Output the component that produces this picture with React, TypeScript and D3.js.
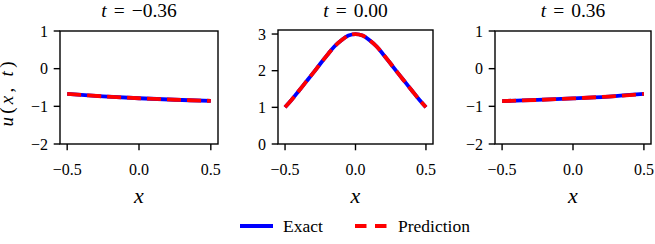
import React, { useEffect, useRef } from "react";
import * as d3 from "d3";

const titles = ["−0.36", "0.00", "0.36"];
const xTicks = [-0.5, 0.0, 0.5];
const yTicksSide = [1, 0, -1, -2];
const yTicksMid = [0, 1, 2, 3];

const xSide = [-0.5, -0.25, 0.0, 0.25, 0.5];
const uLeft = [-0.67, -0.735, -0.785, -0.825, -0.855];
const uRight = [-0.86, -0.83, -0.79, -0.74, -0.67];
const uLeftPred = [-0.67, -0.735, -0.785, -0.825, -0.855];
const uRightPred = [-0.86, -0.83, -0.79, -0.74, -0.67];

const xMid = [-0.5, -0.45, -0.4, -0.35, -0.3, -0.25, -0.2, -0.15, -0.1, -0.05, 0, 0.05, 0.1, 0.15, 0.2, 0.25, 0.3, 0.35, 0.4, 0.45, 0.5];
const uMid = [1.0, 1.22, 1.46, 1.7, 1.94, 2.19, 2.43, 2.66, 2.83, 2.96, 3.0, 2.96, 2.83, 2.66, 2.43, 2.19, 1.94, 1.7, 1.46, 1.22, 1.0];
const uMidPred = [1.0, 1.22, 1.46, 1.7, 1.94, 2.19, 2.43, 2.66, 2.83, 2.96, 3.0, 2.96, 2.83, 2.66, 2.43, 2.19, 1.94, 1.7, 1.46, 1.22, 1.0];

const SERIF = { fontFamily: '"Liberation Serif"' };

type P = {
  left: number; right: number; top: number; bottom: number;
  ydom: [number, number]; yticks: number[]; xs: number[]; ex: number[]; pr: number[]; title: string; ylabel?: boolean;
};

const panels: P[] = [
  { left: 60, right: 218, top: 31, bottom: 144, ydom: [-2, 1], yticks: yTicksSide, xs: xSide, ex: uLeft, pr: uLeftPred, title: titles[0], ylabel: true },
  { left: 278, right: 433, top: 30, bottom: 144, ydom: [0, 3.11], yticks: yTicksMid, xs: xMid, ex: uMid, pr: uMidPred, title: titles[1] },
  { left: 495, right: 651, top: 31, bottom: 144, ydom: [-2, 1], yticks: yTicksSide, xs: xSide, ex: uRight, pr: uRightPred, title: titles[2] },
];

function Panel({ p }: { p: P }) {
  const x = d3.scaleLinear().domain([-0.55, 0.55]).range([p.left, p.right]);
  const y = d3.scaleLinear().domain(p.ydom).range([p.bottom, p.top]);
  const line = d3.line<number>().x((_, i) => x(p.xs[i])).y((d) => y(d)).curve(d3.curveCatmullRom.alpha(0.5));
  const cx = (p.left + p.right) / 2;
  const fmt = (v: number) => (v < 0 ? "−" : "") + Math.abs(v).toFixed(1);
  const fmtY = (v: number) => (v < 0 ? "−" : "") + Math.abs(v).toString();
  return (
    <g>
      <defs>
        <clipPath id={`clip${p.left}`}>
          <rect x={p.left} y={p.top} width={p.right - p.left} height={p.bottom - p.top} />
        </clipPath>
      </defs>
      <g clipPath={`url(#clip${p.left})`}>
        <path d={line(p.ex) || ""} fill="none" stroke="#0000ff" strokeWidth={3.8} />
        <path d={line(p.pr) || ""} fill="none" stroke="#ff0000" strokeWidth={3.8} strokeDasharray="14 6" />
      </g>
      <rect x={p.left} y={p.top} width={p.right - p.left} height={p.bottom - p.top} fill="none" stroke="#000" strokeWidth={1.4} />
      {xTicks.map((t) => (
        <g key={t}>
          <line x1={x(t)} x2={x(t)} y1={p.bottom} y2={p.bottom + 6.3} stroke="#000" strokeWidth={1.4} />
          <text x={x(t)} y={175} textAnchor="middle" fontSize={16} style={SERIF}>{fmt(t)}</text>
        </g>
      ))}
      {p.yticks.map((t) => (
        <g key={t}>
          <line x1={p.left - 6.3} x2={p.left} y1={y(t)} y2={y(t)} stroke="#000" strokeWidth={1.4} />
          <text x={p.left - 12} y={y(t) + 5.5} textAnchor="end" fontSize={16} style={SERIF}>{fmtY(t)}</text>
        </g>
      ))}
      <text x={cx} y={16.5} textAnchor="middle" fontSize={19.5} style={SERIF}>
        <tspan fontStyle="italic">t</tspan>
        <tspan dx={7}>=</tspan>
        <tspan dx={7}>{p.title}</tspan>
      </text>
      <text x={cx} y={203} textAnchor="middle" fontSize={22} fontStyle="italic" style={SERIF}>x</text>
      {p.ylabel && (
        <text transform={`translate(13, 94) rotate(-90)`} textAnchor="middle" fontSize={19} textLength={65} lengthAdjust="spacing" style={SERIF}>
          <tspan fontStyle="italic">u</tspan>(<tspan fontStyle="italic">x</tspan>, <tspan fontStyle="italic">t</tspan>)
        </text>
      )}
    </g>
  );
}

export default function App() {
  const ref = useRef<SVGSVGElement>(null);
  useEffect(() => {
    const apply = () => {
      if (!ref.current) return;
      d3.select(ref.current)
        .selectAll<SVGTextElement, unknown>("text, tspan")
        .attr("font-family", "Liberation Serif")
        .style("font-family", '"Liberation Serif"', "important");
    };
    apply();
    const ids = [0, 50, 200, 600].map((ms) => setTimeout(apply, ms));
    return () => ids.forEach(clearTimeout);
  }, []);
  return (
    <svg ref={ref} width={655} height={244} style={{ position: "absolute", left: 0, top: 0, background: "#fff" }}>
      {panels.map((p, i) => <Panel key={i} p={p} />)}
      <g>
        <line x1={240} x2={273} y1={226} y2={226} stroke="#0000ff" strokeWidth={4} />
        <text x={283} y={232} fontSize={17.5} style={SERIF}>Exact</text>
        <line x1={355} x2={387} y1={226} y2={226} stroke="#ff0000" strokeWidth={4} strokeDasharray="11.5 8.5" />
        <text x={398} y={232} fontSize={17.5} style={SERIF}>Prediction</text>
      </g>
    </svg>
  );
}
